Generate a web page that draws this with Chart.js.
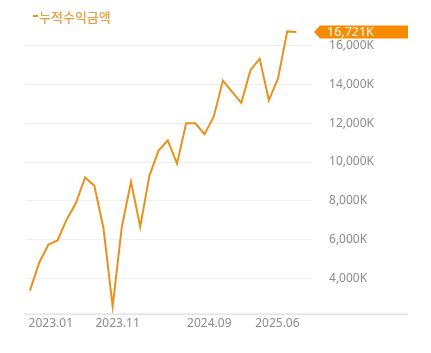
<!DOCTYPE html>
<html lang="ko">

<head>
    <meta charset="UTF-8" />
    <title>누적수익금액</title>
    <script src="https://cdn.jsdelivr.net/npm/chart.js"></script>
    <style>
        body {
            margin: 0;
            background: #fff;
        }

        .chart-box {
            width: 431px;
            height: 353px;
        }
    </style>
</head>

<body>
    <div class="chart-box"><canvas id="profitChart"></canvas></div>

    <script>
        // cumulative profit, thousand won (K). one slot per point, slot 22 has no value
        const slots = [0, 1, 2, 3, 4, 5, 6, 7, 8, 9, 10, 11, 12, 13, 14, 15, 16, 17, 18, 19, 20, 21, 22, 23, 24, 25, 26, 27, 28, 29];
        const profit = [3354, 4798, 5729, 5948, 7036, 7880, 9202, 8780, 6578, 2541,
            6659, 8983, 6659, 9288, 10595, 11119, 9914, 11999, 11999, 11439,
            12339, 14206, null, 13051, 14745, 15340, 13189, 14323, 16748, 16721];
        const xTickPos = [2.27, 9.54, 19.52, 26.93];
        const xTickLabels = ["2023.01", "2023.11", "2024.09", "2025.06"];
        const yTicks = [4000, 6000, 8000, 10000, 12000, 14000, 16000];

        const seriesName = "누적수익금액";
        const lineColor = "#e8921e";
        const tagColor = "#f88c00";

        function fmtK(v) {
            return v.toLocaleString("en-US") + "K";
        }

        // legend dash + name, x axis line, last value tag
        const extras = {
            id: "extras",
            afterDraw(chart) {
                const ctx = chart.ctx;
                const area = chart.chartArea;
                ctx.save();

                ctx.fillStyle = lineColor;
                ctx.fillRect(33, 15, 5, 2);
                ctx.font = "500 13px 'Noto Sans CJK KR', 'Noto Sans', sans-serif";
                ctx.fillStyle = "#e9a040";
                ctx.textBaseline = "middle";
                ctx.textAlign = "left";
                ctx.fillText(seriesName, 39, 17);

                ctx.strokeStyle = "#d4d4d4";
                ctx.lineWidth = 1;
                ctx.beginPath();
                ctx.moveTo(24, area.bottom + 0.5);
                ctx.lineTo(408, area.bottom + 0.5);
                ctx.stroke();

                const last = profit[profit.length - 1];
                const y = chart.scales.y.getPixelForValue(last);
                const x0 = area.right + 2;
                ctx.fillStyle = tagColor;
                ctx.beginPath();
                ctx.moveTo(x0, y);
                ctx.lineTo(x0 + 6, y - 6.5);
                ctx.lineTo(408, y - 6.5);
                ctx.lineTo(408, y + 6.5);
                ctx.lineTo(x0 + 6, y + 6.5);
                ctx.closePath();
                ctx.fill();
                ctx.fillStyle = "#fff";
                ctx.font = "12.5px 'Noto Sans', sans-serif";
                ctx.fillText(fmtK(last), 327, y + 1);
                ctx.restore();
            }
        };

        new Chart(document.getElementById("profitChart"), {
            type: "line",
            data: {
                datasets: [{
                    label: seriesName,
                    data: profit.map((v, i) => ({ x: slots[i], y: v })),
                    borderColor: lineColor,
                    borderWidth: 2,
                    pointRadius: 0,
                    tension: 0,
                    fill: false,
                    spanGaps: true
                }]
            },
            options: {
                responsive: true,
                maintainAspectRatio: false,
                animation: false,
                layout: { padding: { top: 18, left: 25, right: 40, bottom: 19 } },
                plugins: {
                    legend: { display: false },
                    tooltip: { enabled: false }
                },
                scales: {
                    x: {
                        type: "linear",
                        min: -0.54,
                        max: 30.7,
                        grid: { display: false, drawTicks: false },
                        border: { display: false },
                        afterBuildTicks: (axis) => { axis.ticks = xTickPos.map(v => ({ value: v })); },
                        ticks: {
                            autoSkip: false,
                            maxRotation: 0,
                            padding: 3,
                            color: "#8c8c8c",
                            font: { family: "'Noto Sans', sans-serif", size: 12 },
                            callback: (v, i) => xTickLabels[i]
                        }
                    },
                    y: {
                        position: "right",
                        min: 2170,
                        max: 17120,
                        grid: { color: "#efefef", drawTicks: false },
                        border: { display: false },
                        afterBuildTicks: (axis) => { axis.ticks = yTicks.map(v => ({ value: v })); },
                        ticks: {
                            padding: 17,
                            color: "#8c8c8c",
                            font: { family: "'Noto Sans', sans-serif", size: 12 },
                            callback: (v) => fmtK(v)
                        }
                    }
                }
            },
            plugins: [extras]
        });
    </script>
</body>

</html>
